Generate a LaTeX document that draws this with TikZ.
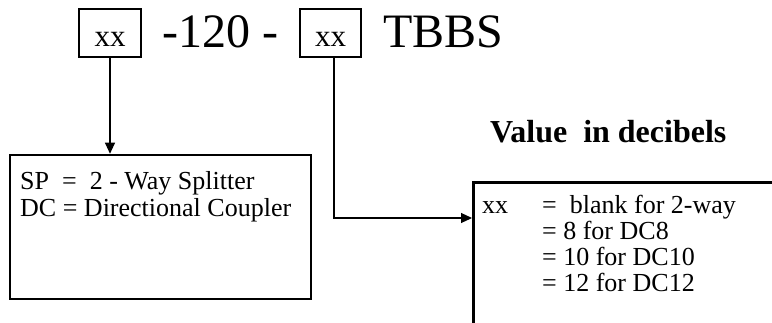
\documentclass[tikz,border=0pt]{standalone}
\usepackage{fontspec}
\setmainfont{Liberation Serif}
\usetikzlibrary{arrows.meta}
\begin{document}
\begin{tikzpicture}[x=1pt,y=-1pt,
  smallbox/.style={draw, line width=1.8pt, inner sep=0pt},
  bigbox/.style={draw, line width=2.6pt, inner sep=0pt},
  conn/.style={line width=1.1pt, -{Triangle[length=11pt,width=10pt]}},
  bodytxt/.style={font=\fontsize{26}{27}\selectfont, inner sep=0pt, anchor=base west, align=left},
]
\useasboundingbox (0,0) rectangle (772,322);
\clip (0,0) rectangle (772,322);
% top code
\node[smallbox, minimum width=62pt, minimum height=48pt] (b1) at (110,33) {};
\node[inner sep=0pt, anchor=base, font=\fontsize{31}{33}\selectfont] (x1) at (110,46) {xx};
\node[inner sep=0pt, anchor=base west, font=\fontsize{48}{50}\selectfont] (t120) at (162,47) {-120 -};
\node[smallbox, minimum width=61pt, minimum height=48pt] (b2) at (330.5,33) {};
\node[inner sep=0pt, anchor=base, font=\fontsize{31}{33}\selectfont] (x2) at (330.5,46) {xx};
\node[inner sep=0pt, anchor=base west, font=\fontsize{48}{50}\selectfont] (tbbs) at (383,47) {TBBS};
% boxes
\node[bigbox, minimum width=301pt, minimum height=144pt] (lb) at (160.5,227) {};
\node[bigbox, minimum width=320pt, minimum height=160pt, anchor=north west] (rb) at (472,181) {};
\node[bodytxt] (lt) at (20,216) {SP\ \ =\ \ 2 - Way Splitter\\DC = Directional Coupler};
\node[inner sep=0pt, anchor=base west, font=\bfseries\fontsize{32}{34}\selectfont] (val) at (490,142) {Value\ \ in decibels};
\node[bodytxt, font=\fontsize{26}{26.3}\selectfont] (rt) at (482,213) {%
  \begin{tabular}[t]{@{}p{60pt}@{}l@{}}
  xx & =\ \ blank for 2-way\\
     & = 8 for DC8\\
     & = 10 for DC10\\
     & = 12 for DC12
  \end{tabular}};
% connectors
\coordinate (c1) at (334,218);
\draw[conn] (110,57) -- (lb.north -| 110,0);
\draw[conn] (b2.south -| c1) -- (c1) -- (rb.west |- c1);
\end{tikzpicture}
\end{document}
